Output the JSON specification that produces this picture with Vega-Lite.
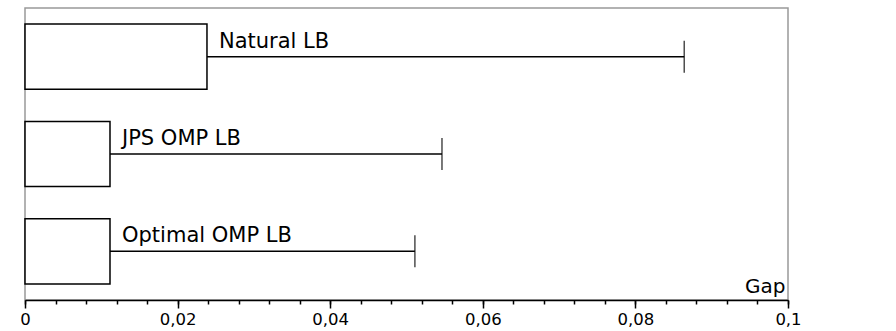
{
  "$schema": "https://vega.github.io/schema/vega-lite/v6.json",
  "autosize": "none",
  "width": 763,
  "height": 292,
  "padding": {"left": 25, "top": 8, "right": 108, "bottom": 31},
  "background": "white",
  "config": {
    "font": "DejaVu Sans",
    "view": {"stroke": "#999999", "strokeWidth": 1.5}
  },
  "data": {
    "values": [
      {"name": "Natural LB", "box": 0.02385, "whisker": 0.0864},
      {"name": "JPS OMP LB", "box": 0.01114, "whisker": 0.05465},
      {"name": "Optimal OMP LB", "box": 0.01114, "whisker": 0.0511}
    ]
  },
  "encoding": {
    "y": {
      "field": "name",
      "type": "nominal",
      "sort": ["Natural LB", "JPS OMP LB", "Optimal OMP LB"],
      "scale": {"paddingInner": 0.33, "paddingOuter": 0.165},
      "axis": null
    }
  },
  "layer": [
    {
      "mark": {"type": "rule", "color": "black", "strokeWidth": 1.5},
      "encoding": {
        "x": {"field": "box", "type": "quantitative", "axis": null},
        "x2": {"field": "whisker"}
      }
    },
    {
      "mark": {"type": "tick", "color": "black", "size": 32, "thickness": 1.5},
      "encoding": {
        "x": {"field": "whisker", "type": "quantitative", "axis": null}
      }
    },
    {
      "mark": {"type": "bar", "fill": "white", "stroke": "black", "strokeWidth": 1.5},
      "encoding": {
        "x": {
          "field": "box",
          "type": "quantitative",
          "scale": {"domain": [0, 0.1], "nice": false, "zero": true},
          "axis": {
            "orient": "bottom",
            "values": [0, 0.004, 0.008, 0.012, 0.016, 0.02, 0.024, 0.028, 0.032, 0.036, 0.04, 0.044, 0.048, 0.052, 0.056, 0.06, 0.064, 0.068, 0.072, 0.076, 0.08, 0.084, 0.088, 0.092, 0.096, 0.1],
            "labels": false,
            "tickSize": 4,
            "tickColor": "black",
            "tickWidth": 1.5,
            "domain": false,
            "grid": false,
            "title": null
          }
        },
        "x2": {"datum": 0}
      }
    },
    {
      "mark": {"type": "text", "align": "left", "baseline": "alphabetic", "dx": 12, "dy": -9, "fontSize": 21, "color": "black"},
      "encoding": {
        "x": {
          "field": "box",
          "type": "quantitative",
          "axis": {
            "orient": "bottom",
            "values": [0, 0.02, 0.04, 0.06, 0.08, 0.1],
            "labelExpr": "replace(format(datum.value, '.2~f'), '.', ',')",
            "labelFontSize": 16.5,
            "labelColor": "black",
            "labelPadding": 3,
            "labelFlush": false,
            "labelOverlap": false,
            "tickSize": 8,
            "tickColor": "black",
            "tickWidth": 1.5,
            "domainColor": "black",
            "domainWidth": 1.5,
            "grid": false,
            "title": "Gap",
            "titleFontSize": 20,
            "titleFontWeight": "normal",
            "titleColor": "black",
            "titleAnchor": "end",
            "titleAlign": "right",
            "titleBaseline": "alphabetic",
            "titleX": 760,
            "titleY": -8
          }
        },
        "text": {"field": "name"}
      }
    }
  ],
  "resolve": {"axis": {"x": "independent"}}
}
